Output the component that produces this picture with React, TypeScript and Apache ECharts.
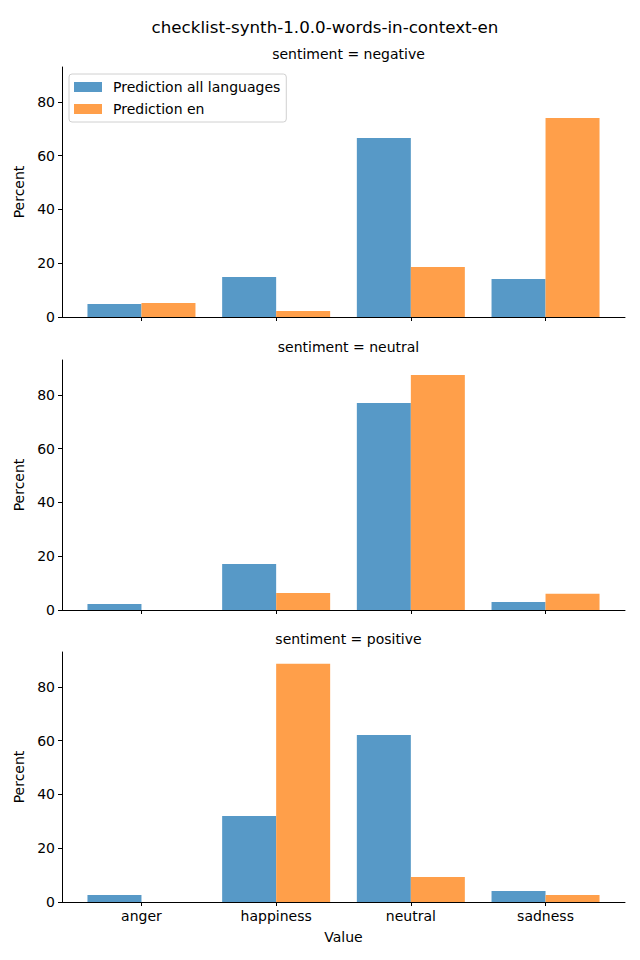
import React, { useEffect, useRef } from "react";
import * as echarts from "echarts";

const categories = ["anger", "happiness", "neutral", "sadness"];
const panelTitles = ["sentiment = negative", "sentiment = neutral", "sentiment = positive"];
const seriesNames = ["Prediction all languages", "Prediction en"];
const allLangNegative = [4.8, 14.9, 66.6, 14.1];
const enNegative = [5.2, 2.2, 18.6, 74.0];
const allLangNeutral = [2.2, 17.1, 77.0, 3.0];
const enNeutral = [0, 6.3, 87.4, 6.0];
const allLangPositive = [2.6, 32.0, 62.1, 4.1];
const enPositive = [0, 88.6, 9.3, 2.6];
const yTicks = [0, 20, 40, 60, 80];
const xTickPositions = [0, 1, 2, 3];

const panels = [
  [allLangNegative, enNegative],
  [allLangNeutral, enNeutral],
  [allLangPositive, enPositive],
];

const BLUE = "#5799c7";
const ORANGE = "#ff9f4a";
const FONT = "DejaVu Sans";

export default function App() {
  const ref = useRef<HTMLDivElement>(null);
  useEffect(() => {
    const chart = echarts.init(ref.current!, null, { renderer: "svg" });
    const tops = [67, 360, 652];
    const grids = tops.map((t) => ({ left: 62, width: 563, top: t, height: 250 }));
    const xAxes = panels.map((_, i) => ({
      type: "value",
      gridIndex: i,
      min: -0.59,
      max: 3.59,
      splitLine: { show: false },
      axisLine: { show: true, onZero: false, lineStyle: { color: "#000", width: 1 } },
      axisTick: { show: true, customValues: xTickPositions, length: 4, lineStyle: { color: "#000" } },
      axisLabel: {
        show: i === 2,
        customValues: xTickPositions,
        formatter: (v: number) => categories[Math.round(v)] ?? "",
        color: "#000",
        fontSize: 14,
        fontFamily: FONT,
        margin: 7,
      },
      name: i === 2 ? "Value" : "",
      nameLocation: "middle",
      nameGap: 28,
      nameTextStyle: { color: "#000", fontSize: 14, fontFamily: FONT },
    }));
    const yAxes = panels.map((_, i) => ({
      type: "value",
      gridIndex: i,
      min: 0,
      max: 93,
      splitLine: { show: false },
      axisLine: { show: true, onZero: false, lineStyle: { color: "#000", width: 1 } },
      axisTick: { show: true, customValues: yTicks, length: 4, lineStyle: { color: "#000" } },
      axisLabel: {
        customValues: yTicks,
        color: "#000",
        fontSize: 14,
        fontFamily: FONT,
        margin: 7,
      },
      name: "Percent",
      nameLocation: "middle",
      nameGap: 33,
      nameTextStyle: { color: "#000", fontSize: 14, fontFamily: FONT },
    }));
    const series: any[] = [];
    panels.forEach((pair, i) => {
      pair.forEach((vals, s) => {
        series.push({
          type: "bar",
          name: seriesNames[s],
          xAxisIndex: i,
          yAxisIndex: i,
          data: vals.map((v, k) => [k, v]),
          barWidth: 54,
          barGap: "0%",
          itemStyle: { color: s === 0 ? BLUE : ORANGE },
          emphasis: { disabled: true },
        });
      });
    });
    const titles: any[] = [
      {
        text: "checklist-synth-1.0.0-words-in-context-en",
        left: 320,
        top: 13,
        textAlign: "center",
        textStyle: { fontSize: 16.7, fontWeight: "normal", color: "#000", fontFamily: FONT },
      },
      ...panelTitles.map((t, i) => ({
        text: t,
        left: 343.5,
        top: tops[i] - 25,
        textAlign: "center",
        textStyle: { fontSize: 14, fontWeight: "normal", color: "#000", fontFamily: FONT },
      })),
    ];
    chart.setOption({
      animation: false,
      backgroundColor: "#fff",
      title: titles,
      grid: grids,
      xAxis: xAxes,
      yAxis: yAxes,
      legend: {
        data: seriesNames,
        orient: "vertical",
        left: 69,
        top: 74,
        itemWidth: 28,
        itemHeight: 10,
        itemGap: 8,
        padding: [6, 6, 6, 5],
        borderColor: "#d0d0d0",
        borderWidth: 1,
        borderRadius: 3,
        backgroundColor: "#fff",
        icon: "rect",
        textStyle: { fontSize: 14, color: "#000", fontFamily: FONT, padding: [0, 0, 0, 6] },
        selectedMode: false,
      },
      series,
    });
    return () => chart.dispose();
  }, []);
  return <div ref={ref} style={{ width: 640, height: 960, position: "absolute", left: 0, top: 0 }} />;
}
